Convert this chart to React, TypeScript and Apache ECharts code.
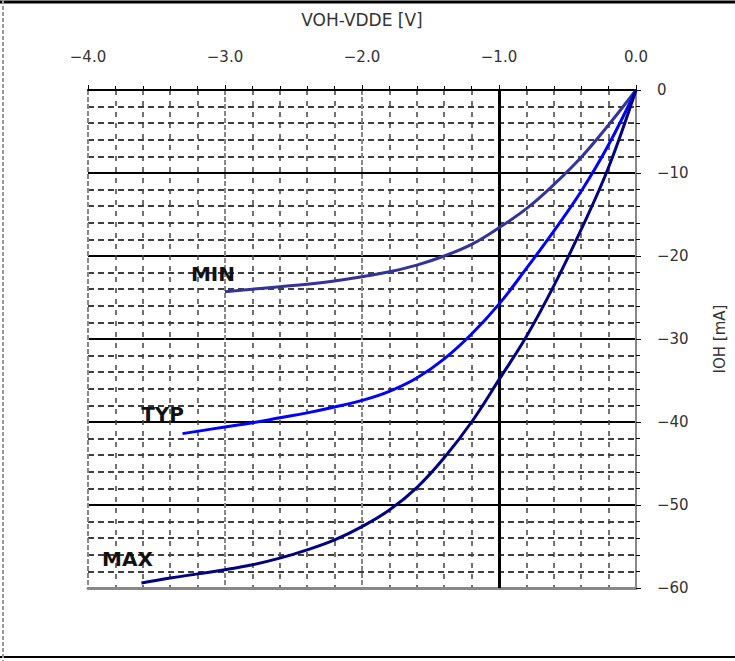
import React, { useEffect, useRef } from "react";
import * as echarts from "echarts";

// Data (VOH-VDDE [V] vs IOH [mA])
const minVolts = [-3.0, -2.8, -2.6, -2.4, -2.2, -2.0, -1.8, -1.6, -1.4, -1.2, -1.0, -0.8, -0.6, -0.4, -0.2, 0];
const minCurrent = [-24.3, -24.0, -23.7, -23.4, -23.0, -22.5, -21.9, -21.1, -20.0, -18.6, -16.6, -14.3, -11.4, -8.1, -4.2, 0];

const typVolts = [-3.31, -3.0, -2.8, -2.6, -2.4, -2.2, -2.0, -1.8, -1.6, -1.4, -1.2, -1.0, -0.8, -0.6, -0.4, -0.2, 0];
const typCurrent = [-41.4, -40.6, -40.1, -39.5, -38.9, -38.2, -37.4, -36.3, -34.7, -32.4, -29.4, -25.8, -21.5, -17.0, -12.2, -6.6, 0];

const maxVolts = [-3.61, -3.4, -3.2, -3.0, -2.8, -2.6, -2.4, -2.2, -2.0, -1.8, -1.6, -1.4, -1.2, -1.0, -0.8, -0.6, -0.4, -0.2, 0];
const maxCurrent = [-59.4, -58.8, -58.3, -57.8, -57.2, -56.4, -55.4, -54.2, -52.6, -50.6, -47.9, -44.3, -40.0, -34.9, -29.7, -23.6, -16.8, -9.3, 0];

const seriesNames = ["MIN", "TYP", "MAX"];
const seriesColors = ["#333399", "#0000ff", "#000080"];
const labelOffsets: [number, number][] = [[-12, -18], [-20, -20], [-14, -24]];

const xMin = -4;
const xMax = 0;
const yMin = -60;
const yMax = 0;
const highlightVolt = -1.0;

const fmtNum = (v: number, digits: number) =>
  v < 0 ? "\u2212" + Math.abs(v).toFixed(digits) : Math.abs(v).toFixed(digits);

export default function App() {
  const ref = useRef<HTMLDivElement>(null);
  useEffect(() => {
    document.body.style.margin = "0";
    const chart = echarts.init(ref.current!, null, { renderer: "svg" });
    const sets = [
      [minVolts, minCurrent],
      [typVolts, typCurrent],
      [maxVolts, maxCurrent],
    ];
    const series: any[] = sets.map(([vx, vy], i) => ({
      type: "line",
      name: seriesNames[i],
      smooth: 0.4,
      symbol: "none",
      lineStyle: { color: seriesColors[i], width: 3 },
      z: 5,
      data: vx.map((x, k) => [x, vy[k]]),
      markPoint: {
        silent: true,
        symbol: "circle",
        symbolSize: 1,
        itemStyle: { color: "rgba(0,0,0,0)" },
        label: {
          show: true,
          position: "inside",
          offset: labelOffsets[i],
          formatter: seriesNames[i],
          fontFamily: "DejaVu Sans",
          fontWeight: "bold",
          fontSize: 20,
          color: "#111",
        },
        data: [{ coord: [vx[0], vy[0]] }],
      },
    }));
    series[0].markLine = {
      silent: true,
      symbol: "none",
      label: { show: false },
      lineStyle: { color: "#000", type: "solid", width: 3 },
      data: [{ xAxis: highlightVolt }],
      z: 2,
    };

    chart.setOption({
      animation: false,
      backgroundColor: "#fff",
      grid: { left: 88, right: 99, top: 90, bottom: 73 },
      xAxis: [
        {
          type: "value",
          position: "top",
          min: xMin,
          max: xMax,
          interval: 1,
          name: "VOH-VDDE [V]",
          nameLocation: "middle",
          nameGap: 62,
          nameTextStyle: { fontFamily: "DejaVu Sans", fontSize: 17, color: "#333" },
          axisLine: { show: true, onZero: false, lineStyle: { color: "#000", width: 2 } },
          axisTick: { show: true, length: 5, inside: false, lineStyle: { color: "#000" } },
          minorTick: { show: true, splitNumber: 5, length: 4, lineStyle: { color: "#000" } },
          axisLabel: {
            margin: 26,
            fontFamily: "DejaVu Sans",
            fontSize: 15,
            color: "#333",
            formatter: (v: number) => fmtNum(v, 1),
          },
          splitLine: { show: true, lineStyle: { color: "#888", type: [5, 2], width: 2 } },
          minorSplitLine: { show: true, lineStyle: { color: "#444", type: [5, 6], width: 1.5 } },
        },
        {
          type: "value",
          position: "bottom",
          min: xMin,
          max: xMax,
          interval: 1,
          axisLine: { show: true, onZero: false, lineStyle: { color: "#888", width: 3 } },
          axisTick: { show: false },
          axisLabel: { show: false },
          splitLine: { show: false },
        },
      ],
      yAxis: {
        type: "value",
        position: "right",
        min: yMin,
        max: yMax,
        interval: 10,
        name: "IOH [mA]",
        nameLocation: "middle",
        nameRotate: 90,
        nameGap: 76,
        nameTextStyle: { fontFamily: "DejaVu Sans", fontSize: 15, color: "#333" },
        axisLine: { show: true, onZero: false, lineStyle: { color: "#888", width: 2, type: [5, 2] } },
        axisTick: { show: true, length: 5, lineStyle: { color: "#000" } },
        minorTick: { show: true, splitNumber: 5, length: 4, lineStyle: { color: "#000" } },
        axisLabel: {
          margin: 21,
          fontFamily: "DejaVu Sans",
          fontSize: 15,
          color: "#333",
          formatter: (v: number) => fmtNum(v, 0),
        },
        splitLine: { show: true, lineStyle: { color: "#000", width: 2 } },
        minorSplitLine: { show: true, lineStyle: { color: "#000", type: [6, 4], width: 1.5 } },
      },
      graphic: [
        { type: "line", shape: { x1: 0, y1: 2, x2: 735, y2: 2 }, style: { stroke: "#000", lineWidth: 3 } },
        { type: "line", shape: { x1: 0, y1: 657, x2: 735, y2: 657 }, style: { stroke: "#000", lineWidth: 2 } },
        { type: "line", shape: { x1: 3, y1: 0, x2: 3, y2: 661 }, style: { stroke: "#999", lineWidth: 2, lineDash: [4, 2] } },
      ],
      series,
    });
    return () => chart.dispose();
  }, []);
  return (
    <div
      ref={ref}
      style={{ position: "absolute", left: 0, top: 0, width: 735, height: 661 }}
    />
  );
}
